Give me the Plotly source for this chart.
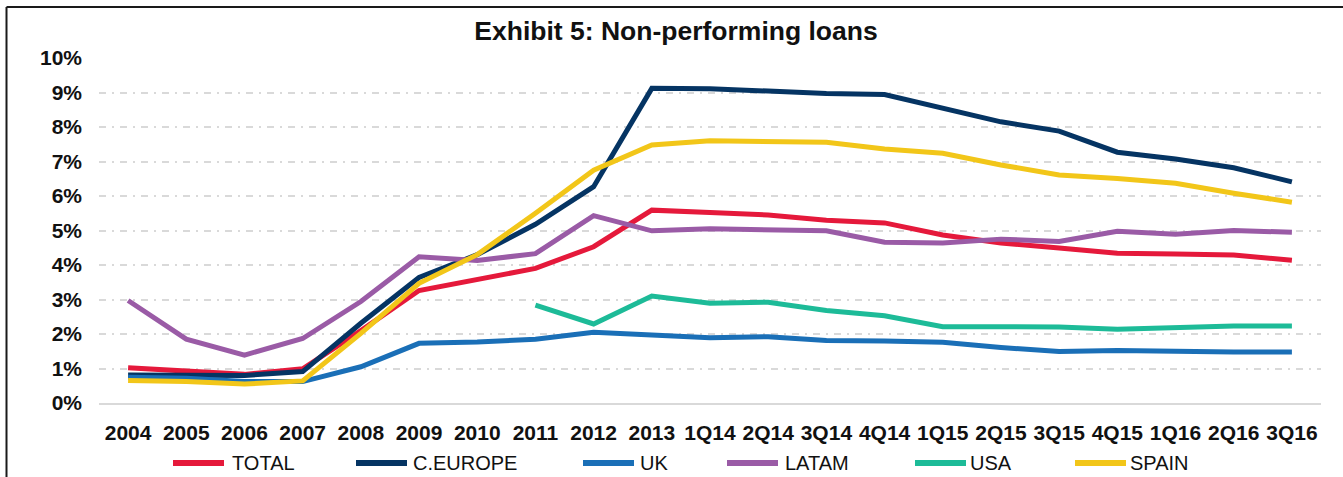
import plotly.graph_objects as go

categories = ['2004', '2005', '2006', '2007', '2008', '2009', '2010', '2011', '2012', '2013',
              '1Q14', '2Q14', '3Q14', '4Q14', '1Q15', '2Q15', '3Q15', '4Q15', '1Q16', '2Q16', '3Q16']

total = [1.02, 0.93, 0.83, 0.99, 2.10, 3.26, 3.58, 3.90, 4.53, 5.59, 5.52, 5.45, 5.30, 5.22,
         4.87, 4.64, 4.49, 4.34, 4.32, 4.29, 4.14]
ceurope = [0.81, 0.79, 0.80, 0.91, 2.31, 3.64, 4.30, 5.18, 6.27, 9.12, 9.11, 9.04, 8.97, 8.94,
           8.53, 8.15, 7.88, 7.27, 7.07, 6.82, 6.41]
uk = [0.75, 0.72, 0.62, 0.62, 1.05, 1.73, 1.77, 1.85, 2.05, 1.97, 1.89, 1.92, 1.81, 1.80,
      1.76, 1.61, 1.49, 1.52, 1.49, 1.48, 1.48]
latam = [2.97, 1.85, 1.39, 1.87, 2.94, 4.24, 4.13, 4.33, 5.43, 4.99, 5.05, 5.02, 4.99, 4.66,
         4.64, 4.75, 4.68, 4.98, 4.89, 5.00, 4.95]
usa = [None, None, None, None, None, None, None, 2.84, 2.29, 3.10, 2.89, 2.92, 2.68, 2.53,
       2.21, 2.21, 2.20, 2.14, 2.18, 2.23, 2.23]
spain = [0.65, 0.62, 0.55, 0.64, 2.02, 3.47, 4.30, 5.50, 6.75, 7.48, 7.60, 7.59, 7.56, 7.36,
         7.24, 6.90, 6.61, 6.51, 6.37, 6.08, 5.82]

series_names = ['TOTAL', 'C.EUROPE', 'UK', 'LATAM', 'USA', 'SPAIN']
series_values = [total, ceurope, uk, latam, usa, spain]
series_colors = ['#E5193B', '#053463', '#1A6FB7', '#9A5BA6', '#1DBB98', '#F2C619']

# legend geometry (pixels)
legend_line_x = [170, 353, 580, 724, 912, 1072]
legend_text_x = [230, 411, 638, 783, 968, 1128]

W, H = 1343, 477
ML, MR, MT, MB = 99, 22, 58, 74
PW, PH = W - ML - MR, H - MT - MB


def px_x(x):
    return (x - ML) / PW


def px_y(y):
    return (H - MB - y) / PH


fig = go.Figure()
for name, vals, col in zip(series_names, series_values, series_colors):
    fig.add_trace(go.Scatter(
        x=categories, y=vals, name=name, mode='lines',
        line=dict(color=col, width=5), connectgaps=False, showlegend=False,
    ))

shapes = []
annotations = []
# outer frame (top and left edges)
shapes.append(dict(type='line', xref='paper', yref='paper',
                   x0=px_x(6.5), x1=px_x(W + 10), y0=px_y(7), y1=px_y(7),
                   line=dict(color='#1a1a1a', width=2)))
shapes.append(dict(type='line', xref='paper', yref='paper',
                   x0=px_x(6.5), x1=px_x(6.5), y0=px_y(7), y1=px_y(H + 10),
                   line=dict(color='#1a1a1a', width=2)))

ly = px_y(463)
for name, col, lx, tx in zip(series_names, series_colors, legend_line_x, legend_text_x):
    shapes.append(dict(type='line', xref='paper', yref='paper',
                       x0=px_x(lx + 3), x1=px_x(lx + 54), y0=ly, y1=ly,
                       line=dict(color=col, width=6)))
    annotations.append(dict(xref='paper', yref='paper', x=px_x(tx), y=ly,
                            xanchor='left', yanchor='middle', showarrow=False,
                            text=name, font=dict(family='Liberation Sans, Arial', size=20,
                                                 color='#111111')))

fig.update_layout(
    width=W, height=H,
    margin=dict(l=ML, r=MR, t=MT, b=MB, autoexpand=False),
    paper_bgcolor='white', plot_bgcolor='white',
    title=dict(text='<b>Exhibit 5: Non-performing loans</b>', x=(676) / W, xanchor='center',
               y=(H - 31) / H, yanchor='middle', yref='container',
               font=dict(family='Liberation Sans, Arial', size=26.5, color='#111111')),
    showlegend=False,
    shapes=shapes,
    annotations=annotations,
    xaxis=dict(type='category', range=[-0.5, 20.5], showgrid=False,
               showline=True, linecolor='#d9d9d9', linewidth=2,
               ticks='', ticklabelstandoff=10,
               tickfont=dict(family='Liberation Sans, Arial', size=21, color='#111111'),
               tickprefix='<b>', ticksuffix='</b>'),
    yaxis=dict(range=[0, 10], dtick=1, ticksuffix='%</b>', tickprefix='<b>',
               showgrid=True, gridcolor='#d9d9d9', gridwidth=2, griddash='7px,6px,2px,6px',
               zeroline=True, zerolinecolor='#d9d9d9', zerolinewidth=2,
               showline=False, ticks='', ticklabelstandoff=16,
               tickfont=dict(family='Liberation Sans, Arial', size=21, color='#111111')),
)

fig.write_html('out.html')
